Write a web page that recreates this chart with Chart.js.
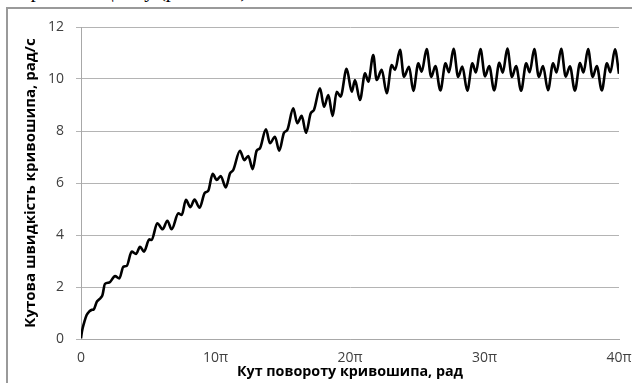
<!DOCTYPE html>
<html>
<head>
<meta charset="utf-8">
<script src="https://cdn.jsdelivr.net/npm/chart.js@4.4.1/dist/chart.umd.min.js"></script>
<style>
  html, body { margin:0; padding:0; background:#fff; width:632px; height:383px; overflow:hidden; position:relative; }
  #frame { position:absolute; left:6px; top:7px; width:640px; height:400px; border-left:2px solid #9a9a9a; border-top:2px solid #9a9a9a; box-sizing:border-box; }
  #para { position:absolute; left:20px; top:-20px; font-family:"Liberation Serif", serif; font-size:20px; line-height:20px; color:#000; white-space:nowrap; }
  #wrap { position:absolute; left:0; top:0; width:632px; height:383px; }
</style>
</head>
<body>
<div id="para">протягом циклу (рис. 4.12)</div>
<div id="frame"></div>
<div id="wrap"><canvas id="c" width="632" height="383"></canvas></div>
<script>
// Crank angle, in units of π (rad / π)
const angleInPi = [
  0, 0.05, 0.13, 0.25, 0.42, 0.6, 0.8, 0.95, 1.17, 1.3, 1.46, 1.6,
  1.78, 2.1, 2.53, 2.85, 3.15, 3.4,
  3.77, 4.09, 4.39, 4.68, 5.08, 5.25,
  5.67, 6.07, 6.42, 6.74, 7.24, 7.49,
  7.8, 8.13, 8.44, 8.82, 9.2, 9.46,
  9.79, 10.09, 10.39, 10.76, 11.08, 11.32,
  11.82, 12.14, 12.44, 12.76, 13.06, 13.3,
  13.75, 14.05, 14.42, 14.74, 15.09, 15.34,
  15.78, 16.08, 16.41, 16.73, 17.08, 17.32,
  17.77, 18.07, 18.39, 18.71, 19.01, 19.3,
  19.75, 20.13, 20.37, 20.74, 21.12, 21.36,
  21.73, 21.98, 22.36, 22.73, 23.1, 23.35,
  23.72, 24.01, 24.39, 24.71, 25.08, 25.33,
  25.7, 26.04, 26.35, 26.72, 27.1, 27.36,
  27.7, 28.04, 28.35, 28.72, 29.1, 29.36,
  29.7, 30.04, 30.35, 30.72, 31.1, 31.36,
  31.7, 32.04, 32.35, 32.72, 33.1, 33.36,
  33.7, 34.04, 34.35, 34.72, 35.1, 35.36,
  35.7, 36.04, 36.35, 36.72, 37.1, 37.36,
  37.7, 38.04, 38.35, 38.72, 39.1, 39.36,
  39.7, 40
];
// Crank angular velocity, rad/s
const omega = [
  0.03, 0.22, 0.43, 0.66, 0.92, 1.05, 1.12, 1.14, 1.43, 1.5, 1.58, 1.7,
  2.12, 2.17, 2.42, 2.33, 2.78, 2.81,
  3.36, 3.27, 3.55, 3.36, 3.83, 3.81,
  4.45, 4.22, 4.55, 4.22, 4.83, 4.77,
  5.35, 5.07, 5.36, 5.05, 5.62, 5.7,
  6.35, 6.12, 6.27, 5.83, 6.37, 6.5,
  7.24, 6.88, 7.04, 6.53, 7.24, 7.33,
  8.07, 7.53, 7.78, 7.24, 7.93, 8.04,
  8.87, 8.3, 8.58, 7.93, 8.68, 8.81,
  9.64, 8.93, 9.38, 8.58, 9.51, 9.32,
  10.39, 9.51, 9.96, 9.19, 10.22, 9.9,
  10.92, 9.96, 10.35, 9.45, 10.54, 10.35,
  11.12, 10.09, 10.47, 9.54, 10.6, 10.28,
  11.15, 10.08, 10.5, 9.56, 10.6, 10.26,
  11.16, 10.08, 10.48, 9.55, 10.6, 10.25,
  11.15, 10.1, 10.5, 9.56, 10.62, 10.24,
  11.17, 10.08, 10.5, 9.55, 10.6, 10.26,
  11.15, 10.08, 10.5, 9.57, 10.6, 10.25,
  11.16, 10.09, 10.49, 9.55, 10.61, 10.25,
  11.15, 10.08, 10.5, 9.56, 10.6, 10.26,
  11.14, 10.2
];
const xTickValues = [0, 10, 20, 30, 40];
const xTickLabels = ['0', '10π', '20π', '30π', '40π'];
const yMin = 0, yMax = 12, yStep = 2;
const xTitle = 'Кут повороту кривошипа, рад';
const yTitle = 'Кутова швидкість кривошипа, рад/с';

const points = angleInPi.map((x, i) => ({ x: x, y: omega[i] }));
const tickFont = { family: '"Open Sans", sans-serif', size: 14 };

new Chart(document.getElementById('c'), {
  type: 'line',
  data: {
    datasets: [{
      data: points,
      borderColor: '#000',
      borderWidth: 2.6,
      pointRadius: 0,
      fill: false,
      cubicInterpolationMode: 'monotone'
    }]
  },
  options: {
    responsive: false,
    animation: false,
    events: [],
    plugins: { legend: { display: false }, tooltip: { enabled: false } },
    layout: { padding: { left: 0, top: 27, right: 13, bottom: 0 } },
    scales: {
      x: {
        type: 'linear',
        min: 0, max: 40,
        afterBuildTicks: s => { s.ticks = xTickValues.map(v => ({ value: v })); },
        ticks: {
          callback: (v, i) => xTickLabels[i],
          font: tickFont, color: '#404040', padding: 3,
          maxRotation: 0, autoSkip: false
        },
        grid: { display: false },
        border: { display: true, color: '#a8a8a8', width: 1 },
        title: { display: true, text: xTitle, font: { family: '"Open Sans", sans-serif', size: 14.3, weight: 'bold' }, color: '#000', padding: { top: 0, bottom: 2 } },
        afterFit: s => { s.height = 44; s.paddingLeft = 0; s.paddingRight = 0; }
      },
      y: {
        min: yMin, max: yMax,
        ticks: { stepSize: yStep, font: tickFont, color: '#404040', padding: 12 },
        grid: { color: '#b4b4b4', lineWidth: 1, tickLength: 5, drawTicks: true },
        border: { display: true, color: '#a8a8a8', width: 1 },
        title: { display: true, text: yTitle, font: { family: '"Open Sans", sans-serif', size: 15, weight: 'bold' }, color: '#000', padding: { top: 22, bottom: 0 } },
        afterFit: s => { s.width = 81; s.paddingTop = 0; s.paddingBottom = 0; }
      }
    }
  }
});
</script>
</body>
</html>
